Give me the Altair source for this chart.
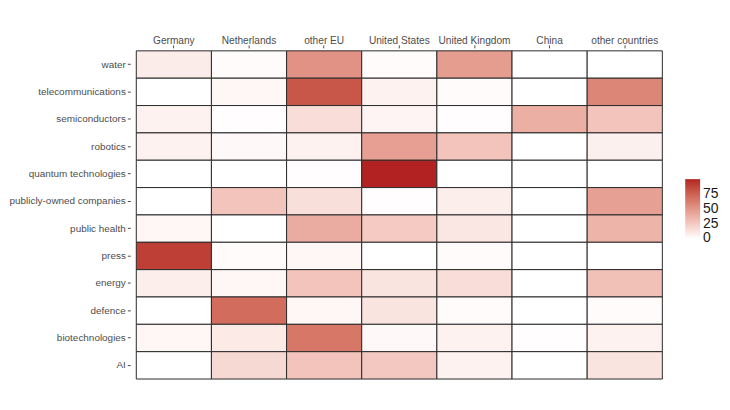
import altair as alt
import pandas as pd

countries = ["Germany", "Netherlands", "other EU", "United States", "United Kingdom", "China", "other countries"]
topics = ["water", "telecommunications", "semiconductors", "robotics", "quantum technologies",
          "publicly-owned companies", "public health", "press", "energy", "defence",
          "biotechnologies", "AI"]

water = [9, 2, 52, 2, 47, 0, 0]
telecommunications = [0, 4, 80, 6, 2, 0, 58]
semiconductors = [6, 1, 16, 5, 1, 38, 28]
robotics = [6, 3, 6, 46, 28, 0, 7]
quantum_technologies = [0, 0, 1, 100, 0, 0, 0]
publicly_owned = [0, 28, 15, 1, 8, 0, 45]
public_health = [4, 0, 40, 25, 12, 0, 36]
press = [90, 2, 4, 0, 2, 0, 0]
energy = [8, 4, 28, 13, 16, 0, 30]
defence = [0, 70, 4, 13, 2, 0, 2]
biotechnologies = [4, 10, 65, 3, 6, 1, 6]
ai = [0, 18, 28, 26, 6, 0, 13]

legend_ticks = [0.6, 25, 50, 75]

rows = [water, telecommunications, semiconductors, robotics, quantum_technologies,
        publicly_owned, public_health, press, energy, defence, biotechnologies, ai]

records = []
for t, vals in zip(topics, rows):
    for c, v in zip(countries, vals):
        records.append({"topic": t, "country": c, "value": v})
df = pd.DataFrame(records)

font = "Liberation Sans"

chart = alt.Chart(df).mark_rect(stroke="#2a2a2a", strokeWidth=1).encode(
    x=alt.X("country:N", sort=countries, title=None,
            scale=alt.Scale(paddingInner=0, paddingOuter=0),
            axis=alt.Axis(orient="top", labelAngle=0, labelFontSize=10.2, labelColor="#4D4D4D",
                          labelFont=font, tickColor="#4D4D4D", tickSize=3, domain=False,
                          offset=3, labelPadding=-1, grid=False)),
    y=alt.Y("topic:N", sort=topics, title=None,
            scale=alt.Scale(paddingInner=0, paddingOuter=0),
            axis=alt.Axis(labelFontSize=10, labelColor="#4D4D4D", labelFont=font,
                          tickColor="#4D4D4D", tickSize=3, domain=False, labelPadding=2,
                          offset=6, grid=False)),
    color=alt.Color("value:Q", title=None,
                    scale=alt.Scale(domain=[0, 100], range=["#FFFFFF", "#B22222"],
                                    interpolate="lab"),
                    legend=alt.Legend(orient="none", legendX=552, legendY=129,
                                      gradientLength=60, gradientThickness=15,
                                      values=legend_ticks, labelFontSize=14,
                                      labelExpr="datum.value < 1 ? '0' : datum.label",
                                      labelOverlap=False, labelBaseline="middle",
                                      labelColor="#1a1a1a", labelFont=font,
                                      gradientStrokeWidth=0, labelOffset=3)),
).properties(
    width=529, height=330,
    autosize=alt.AutoSizeParams(type="none"),
    padding={"left": 129, "top": 42, "right": 60, "bottom": 20},
).configure_view(stroke=None)

chart.save("out.html", embed_options={"renderer": "svg", "actions": False})
